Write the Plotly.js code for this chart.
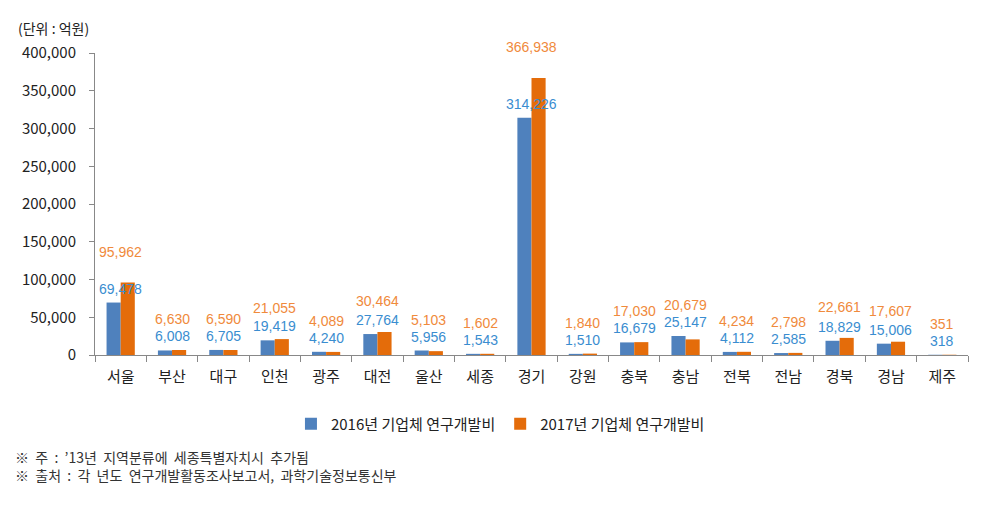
<!DOCTYPE html>
<html>
<head>
<meta charset="utf-8">
<script src="https://cdn.plot.ly/plotly-3.0.1.min.js"></script>
<style>html,body{margin:0;padding:0;background:#fff;}#chart{width:991px;height:509px;}</style>
</head>
<body>
<div id="chart"></div>
<script>
const regions = ['서울','부산','대구','인천','광주','대전','울산','세종','경기','강원','충북','충남','전북','전남','경북','경남','제주'];
const values2016 = [69478, 6008, 6705, 19419, 4240, 27764, 5956, 1543, 314226, 1510, 16679, 25147, 4112, 2585, 18829, 15006, 318];
const values2017 = [95962, 6630, 6590, 21055, 4089, 30464, 5103, 1602, 366938, 1840, 17030, 20679, 4234, 2798, 22661, 17607, 351];
const seriesNames = ['2016년 기업체 연구개발비', '2017년 기업체 연구개발비'];
const yTicks = [0, 50000, 100000, 150000, 200000, 250000, 300000, 350000, 400000];
const unitLabel = '(단위 : 억원)';
const notes = ['※  주  :  \u201913년  지역분류에  세종특별자치시  추가됨', '※  출처  :  각  년도  연구개발활동조사보고서,  과학기술정보통신부'];

const FONT = '"Noto Sans CJK KR", "Noto Sans", sans-serif';
const NUMFONT = '"Liberation Sans", Arial, sans-serif';
const fmt = v => v.toLocaleString('en-US');

const traces = [
  {type:'bar', name:seriesNames[0], x:regions, y:values2016, marker:{color:'#4f81bd'}, hoverinfo:'none'},
  {type:'bar', name:seriesNames[1], x:regions, y:values2017, marker:{color:'#e46c0a'}, hoverinfo:'none'}
];

const annotations = [];
regions.forEach((r, i) => {
  annotations.push({x:r, y:values2016[i], xref:'x', yref:'y', text:fmt(values2016[i]), showarrow:false,
    yanchor:'middle', yshift:14, font:{family:NUMFONT, size:14, color:'#3a8dd0'}});
  annotations.push({x:r, y:Math.max(values2016[i], values2017[i]), xref:'x', yref:'y', text:fmt(values2017[i]), showarrow:false,
    yanchor:'middle', yshift:31, font:{family:NUMFONT, size:14, color:'#f08a3c'}});
});
annotations.push({xref:'paper', yref:'paper', x:-0.09, y:1.083, xanchor:'left', yanchor:'middle', text:unitLabel, showarrow:false,
  font:{family:FONT, size:14, color:'#222'}});
notes.forEach((t, k) => {
  annotations.push({xref:'paper', yref:'paper', x:-0.094, y:-0.338 - k*0.06, xanchor:'left', yanchor:'middle', text:t, showarrow:false,
    font:{family:FONT, size:14, color:'#333'}});
});

const layout = {
  width:991, height:509,
  margin:{l:95, r:23, t:53, b:154},
  paper_bgcolor:'#fff', plot_bgcolor:'#fff',
  font:{family:FONT, color:'#222'},
  barmode:'group', bargap:0.45, bargroupgap:0,
  showlegend:true,
  legend:{orientation:'h', xref:'container', x:0.505, xanchor:'center', yref:'container', y:0.167, yanchor:'middle',
    font:{family:FONT, size:15, color:'#222'}, itemwidth:30, traceorder:'normal'},
  xaxis:{type:'category', showline:true, linecolor:'#888', linewidth:1, ticks:'outside', ticklen:6, tickcolor:'#888',
    tickson:'boundaries', showgrid:false, zeroline:false, tickfont:{family:FONT, size:15, color:'#222'}, ticklabelstandoff:8},
  yaxis:{range:[0,400000], tickvals:yTicks, ticktext:yTicks.map(fmt), showline:true, linecolor:'#888', linewidth:1,
    ticks:'outside', ticklen:5, tickcolor:'#888', showgrid:false, zeroline:false,
    tickfont:{family:FONT, size:15, color:'#222'}, ticklabelstandoff:10},
  annotations:annotations
};

Plotly.newPlot('chart', traces, layout, {displayModeBar:false, staticPlot:true});
</script>
</body>
</html>
